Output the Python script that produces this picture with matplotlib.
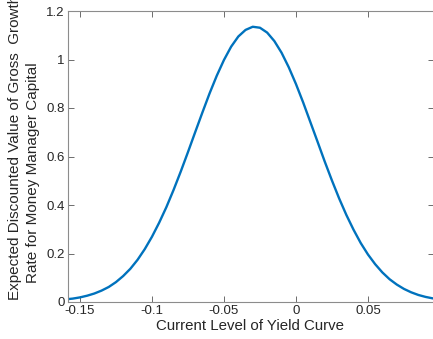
import matplotlib
matplotlib.use("Agg")
import matplotlib.pyplot as plt

plt.rcParams['font.family'] = ['Liberation Sans', 'DejaVu Sans']

# Values
yield_level = [-0.160, -0.155, -0.150, -0.145, -0.140, -0.135, -0.130, -0.125,
               -0.120, -0.115, -0.110, -0.105, -0.100, -0.095, -0.090, -0.085,
               -0.080, -0.075, -0.070, -0.065, -0.060, -0.055, -0.050, -0.045,
               -0.040, -0.035, -0.030, -0.025, -0.020, -0.015, -0.010, -0.005,
               0.000, 0.005, 0.010, 0.015, 0.020, 0.025, 0.030, 0.035,
               0.040, 0.045, 0.050, 0.055, 0.060, 0.065, 0.070, 0.075,
               0.080, 0.085, 0.090, 0.095, 0.100]
growth_value = [0.011, 0.014, 0.019, 0.026, 0.035, 0.047, 0.062, 0.082,
                0.107, 0.137, 0.174, 0.218, 0.269, 0.327, 0.391, 0.462,
                0.538, 0.618, 0.700, 0.781, 0.860, 0.933, 0.998, 1.053,
                1.095, 1.122, 1.135, 1.131, 1.111, 1.076, 1.028, 0.968,
                0.899, 0.823, 0.742, 0.661, 0.579, 0.501, 0.427, 0.359,
                0.298, 0.243, 0.196, 0.156, 0.122, 0.094, 0.072, 0.054,
                0.040, 0.029, 0.021, 0.015, 0.011]

x_ticks = [-0.15, -0.1, -0.05, 0, 0.05]
x_tick_labels = ['-0.15', '-0.1', '-0.05', '0', '0.05']
y_ticks = [0, 0.2, 0.4, 0.6, 0.8, 1.0, 1.2]
y_tick_labels = ['0', '0.2', '0.4', '0.6', '0.8', '1', '1.2']

W, H = 433, 339
fig = plt.figure(figsize=(W / 100, H / 100), dpi=100)

left_px, right_px, top_px, bottom_px = 68, 434, 11, 302
ax = fig.add_axes([left_px / W, 1 - bottom_px / H,
                   (right_px - left_px) / W, (bottom_px - top_px) / H])

ax.plot(yield_level, growth_value, color='#0072BD', lw=1.7)

# x scale: 72 px per 0.05
xmin = -0.1583
xmax = xmin + (right_px - left_px) / 72 * 0.05
ax.set_xlim(xmin, xmax)
ax.set_ylim(0, 1.2)

ax.set_xticks(x_ticks)
ax.set_xticklabels(x_tick_labels)
ax.set_yticks(y_ticks)
ax.set_yticklabels(y_tick_labels)

axis_col = '#262626'
for s in ax.spines.values():
    s.set_color('#8c8c8c')
    s.set_linewidth(0.8)
ax.tick_params(direction='in', length=4, width=0.6, color='#555555',
               labelsize=9.5, labelcolor=axis_col, top=True, right=True,
               pad=2.5)

fig.text(250.5 / W, 1 - 326 / H, 'Current Level of Yield Curve',
         ha='center', va='center', fontsize=10.8, color=axis_col)

fig.text(15 / W, 1 - 300 / H, 'Expected Discounted Value of Gross  Growth',
         rotation=90, ha='center', va='bottom', fontsize=11.0, color=axis_col)
fig.text(33 / W, 1 - 283 / H, 'Rate for Money Manager Capital',
         rotation=90, ha='center', va='bottom', fontsize=11.0, color=axis_col)

fig.savefig('out.png', dpi=100)
